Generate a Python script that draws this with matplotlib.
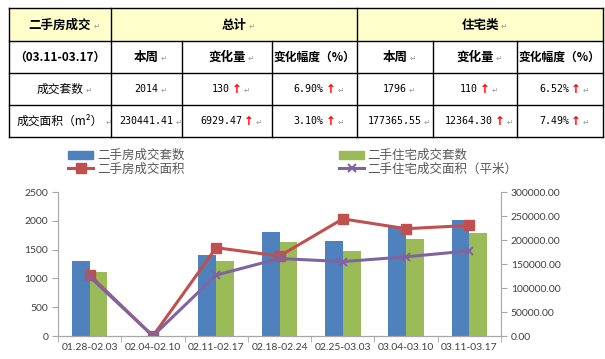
import numpy as np
import matplotlib
matplotlib.use('Agg')
import matplotlib.pyplot as plt
from matplotlib.patches import Rectangle, Patch
from matplotlib.lines import Line2D

plt.rcParams['font.family'] = ['Noto Sans CJK SC', 'DejaVu Sans']

# chart data
weeks = ['01.28-02.03', '02.04-02.10', '02.11-02.17', '02.18-02.24',
         '02.25-03.03', '03.04-03.10', '03.11-03.17']
total_units = [1302, 0, 1406, 1798, 1649, 1884, 2014]
resid_units = [1117, 0, 1302, 1632, 1476, 1686, 1796]
total_area = [127000, 0, 184000, 166500, 244000, 223511.94, 230441.41]
resid_area = [123500, 0, 127000, 161500, 155000, 165001.25, 177365.55]

# table data
header_top = ['二手房成交', '总计', '住宅类']
header_sub = ['（03.11-03.17）', '本周', '变化量', '变化幅度（%）', '本周', '变化量', '变化幅度（%）']
row_labels = ['成交套数', '成交面积（m²）']
row_units = ['2014', '130', '6.90%', '1796', '110', '6.52%']
row_area = ['230441.41', '6929.47', '3.10%', '177365.55', '12364.30', '7.49%']
has_arrow = [False, True, True, False, True, True]

fig = plt.figure(figsize=(6.05, 3.59), dpi=100)

# ---- table drawn in pixel coords ----
tab = fig.add_axes([0, 0, 1, 1])
tab.set_xlim(0, 605)
tab.set_ylim(359, 0)
tab.axis('off')

cols = [9, 111, 182, 272, 357, 433, 517, 603]
rows = [8, 41, 73, 105, 137]
tab.add_patch(Rectangle((cols[0], rows[0]), cols[-1] - cols[0], rows[1] - rows[0],
                        facecolor='#FFFFCC', edgecolor='none'))
for y in rows:
    tab.plot([cols[0], cols[-1]], [y, y], color='black', lw=1)
for i, x in enumerate(cols):
    y_top = rows[0] if i in (0, 1, 4, 7) else rows[1]
    tab.plot([x, x], [y_top, rows[-1]], color='black', lw=1)

renderer = fig.canvas.get_renderer()
inv = tab.transData.inverted()


def text_width(t):
    bb = t.get_window_extent(renderer)
    p0 = inv.transform((bb.x0, bb.y0))
    p1 = inv.transform((bb.x1, bb.y0))
    return p1[0] - p0[0]


def cell(s, x0, x1, y0, y1, bold=False, mono=False, arrow=False, size=8.5):
    xc = (x0 + x1) / 2
    yc = (y0 + y1) / 2 + 0.5
    fam = ['DejaVu Sans Mono'] if mono else ['Noto Sans CJK SC', 'DejaVu Sans']
    t = tab.text(0, yc, s, ha='left', va='center', fontsize=7.2 if mono else size,
                 family=fam, fontweight='bold' if bold else 'normal', color='black')
    w = text_width(t)
    a = None
    aw = 0
    if arrow:
        a = tab.text(0, yc, '↑', ha='left', va='center', fontsize=8.5,
                     family=['DejaVu Sans'], fontweight='bold', color='#FF0000')
        aw = text_width(a) + 2
    start = xc - (w + aw) / 2
    t.set_x(start)
    end = start + w
    if a is not None:
        a.set_x(end + 2)
        end += aw
    if end + 7 <= x1:
        tab.text(end + 2, yc + 1, '↵', ha='left', va='center', fontsize=5.5,
                 family=['DejaVu Sans'], color='#999999')


cell(header_top[0], cols[0], cols[1], rows[0], rows[1], bold=True, size=9)
cell(header_top[1], cols[1], cols[4], rows[0], rows[1], bold=True, size=9)
cell(header_top[2], cols[4], cols[7], rows[0], rows[1], bold=True, size=9)
for j, s in enumerate(header_sub):
    sz = 9 if len(s) < 5 else 8.5
    cell(s, cols[j], cols[j + 1], rows[1], rows[2], bold=True, size=sz)
for r, (lab, vals) in enumerate([(row_labels[0], row_units), (row_labels[1], row_area)]):
    cell(lab, cols[0], cols[1], rows[2 + r], rows[3 + r])
    for j, v in enumerate(vals):
        cell(v, cols[j + 1], cols[j + 2], rows[2 + r], rows[3 + r], mono=True, arrow=has_arrow[j])

# ---- chart ----
blue, green, red, purple = '#4F81BD', '#9BBB59', '#C0504D', '#8064A2'
ax = fig.add_axes([58 / 605, 1 - 336 / 359, 443 / 605, 144 / 359])
x = np.arange(len(weeks))
bw = 0.28
ax.bar(x - bw / 2, total_units, bw, color=blue)
ax.bar(x + bw / 2, resid_units, bw, color=green)
ax.set_xlim(-0.5, len(weeks) - 0.5)
ax.set_ylim(0, 2500)
ax.set_yticks(range(0, 2501, 500))
ax.set_xticks(x)
ax.set_xticklabels(weeks)
ax.set_xticks(np.arange(-0.5, len(weeks)), minor=True)
ax.tick_params(axis='x', which='major', length=0, pad=5)
ax.tick_params(axis='x', which='minor', length=4, color='#A6A6A6')
ax.tick_params(axis='y', length=4, color='#A6A6A6', pad=3)

ax2 = ax.twinx()
ax2.plot(x, total_area, color=red, lw=2.2, marker='s', ms=7)
ax2.plot(x, resid_area, color=purple, lw=2.2, marker='x', ms=6, mew=1.5)
ax2.set_ylim(0, 300000)
ax2.set_yticks(range(0, 300001, 50000))
ax2.set_yticklabels(['%.2f' % v for v in range(0, 300001, 50000)])
ax2.tick_params(axis='y', length=4, color='#A6A6A6', pad=3)

for a in (ax, ax2):
    a.spines['top'].set_visible(False)
    for side in ('left', 'right', 'bottom'):
        a.spines[side].set_color('#A6A6A6')
    for lbl in a.get_xticklabels() + a.get_yticklabels():
        lbl.set_family(['Lato', 'DejaVu Sans'])
        lbl.set_fontsize(7.5)
        lbl.set_color('#404040')
ax.spines['right'].set_visible(False)
ax2.spines['left'].set_visible(False)

h1 = [Patch(color=blue), Line2D([], [], color=red, lw=2.2, marker='s', ms=7)]
h2 = [Patch(color=green), Line2D([], [], color=purple, lw=2.2, marker='x', ms=6, mew=1.5)]
kw = dict(frameon=False, loc='upper left', borderpad=0, borderaxespad=0, handlelength=2.0,
          handleheight=0.6, handletextpad=0.3, labelspacing=0.05,
          prop={'family': ['Noto Sans CJK SC', 'DejaVu Sans'], 'size': 9})
l1 = fig.legend(h1, ['二手房成交套数', '二手房成交面积'], bbox_to_anchor=(68 / 605, 1 - 149 / 359), **kw)
l2 = fig.legend(h2, ['二手住宅成交套数', '二手住宅成交面积（平米）'], bbox_to_anchor=(339 / 605, 1 - 149 / 359), **kw)
for lg in (l1, l2):
    for t in lg.get_texts():
        t.set_color('#595959')

fig.savefig('out.png', dpi=100)
